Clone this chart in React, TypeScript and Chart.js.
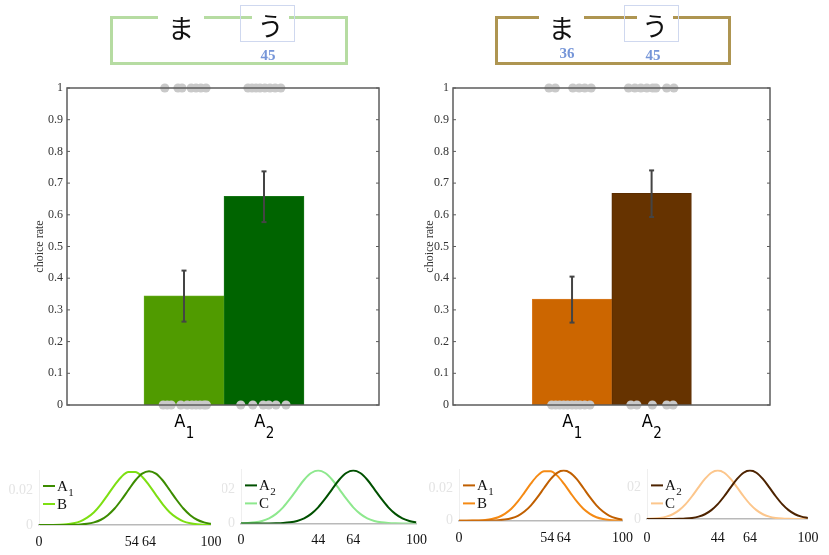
import React, { useEffect, useRef } from 'react';
import { Chart, registerables } from 'chart.js';

Chart.register(...registerables);

// ---------------- data ----------------
const categories = ['A1', 'A2'];
const categoryPos = [1, 2];
const rateTicks = [0, 0.1, 0.2, 0.3, 0.4, 0.5, 0.6, 0.7, 0.8, 0.9, 1];

const greenRates = [0.344, 0.658];
const greenErrLow = [0.263, 0.577];
const greenErrHigh = [0.424, 0.737];
const greenChoiceOneX = [0.76, 0.925, 0.975, 1.09, 1.15, 1.21, 1.275, 1.8, 1.85, 1.9, 1.95, 2.01, 2.075, 2.14, 2.21];
const greenChoiceZeroX = [0.74, 0.79, 0.84, 0.96, 1.04, 1.1, 1.15, 1.2, 1.25, 1.28, 1.71, 1.86, 1.99, 2.06, 2.15, 2.275];

const brownRates = [0.334, 0.668];
const brownErrLow = [0.26, 0.593];
const brownErrHigh = [0.405, 0.74];
const brownChoiceOneX = [0.71, 0.79, 1.01, 1.09, 1.16, 1.24, 1.71, 1.79, 1.865, 1.94, 2.015, 2.055, 2.19, 2.28];
const brownChoiceZeroX = [0.745, 0.795, 0.845, 0.895, 0.945, 1.0, 1.05, 1.1, 1.16, 1.225, 1.74, 1.815, 2.01, 2.19, 2.27];

const densityX = [0, 4, 8, 12, 16, 20, 24, 28, 32, 36, 40, 44, 48, 52, 56, 60, 64, 68, 72, 76, 80, 84, 88, 92, 96, 100];
const densityPeak64 = [0, 0, 0, 0.00001, 0.00003, 0.0001, 0.00027, 0.00067, 0.0015, 0.003, 0.0056, 0.0094, 0.0144, 0.02, 0.0254, 0.0293, 0.0307, 0.0293, 0.0254, 0.02, 0.0144, 0.0094, 0.0056, 0.003, 0.0015, 0.00067];
const densityPeak54 = [0, 0.00002, 0.00006, 0.00017, 0.00043, 0.001, 0.0021, 0.0042, 0.0073, 0.0118, 0.0172, 0.0228, 0.0276, 0.0303, 0.0303, 0.0276, 0.0228, 0.0172, 0.0118, 0.0073, 0.0042, 0.0021, 0.001, 0.00043, 0.00017, 0.00006];
const densityPeak44 = [0.0001, 0.00027, 0.00067, 0.0015, 0.003, 0.0056, 0.0094, 0.0144, 0.02, 0.0254, 0.0293, 0.0307, 0.0293, 0.0254, 0.02, 0.0144, 0.0094, 0.0056, 0.003, 0.0015, 0.00067, 0.00027, 0.0001, 0.00003, 0.00001, 0];
const ticksAB = [0, 54, 64, 100];
const ticksAC = [0, 44, 64, 100];
const densityTicks = [0, 0.02];

const boxChars = ['ま', 'う'];
const greenBoxCounts = ['', '45'];
const brownBoxCounts = ['36', '45'];

// ---------------- helpers ----------------
const SERIF = '"Liberation Serif", "Times New Roman", "DejaVu Serif", serif';
const NARROW = '"Liberation Sans Narrow", "DejaVu Sans Condensed", "Liberation Sans", sans-serif';

function drawSubLabel(ctx: any, label: string, x: number, y: number, font: string, subFont: string, dy: number, align: 'left' | 'center') {
  const m = /^(\D+)(\d*)$/.exec(label);
  const base = m ? m[1] : label;
  const sub = m ? m[2] : '';
  ctx.font = font;
  const wb = ctx.measureText(base).width;
  ctx.font = subFont;
  const ws = sub ? ctx.measureText(sub).width : 0;
  const x0 = align === 'center' ? x - (wb + ws) / 2 : x;
  ctx.textAlign = 'left';
  ctx.textBaseline = 'alphabetic';
  ctx.font = font;
  ctx.fillText(base, x0, y);
  if (sub) {
    ctx.font = subFont;
    ctx.fillText(sub, x0 + wb + 0.5, y + dy);
  }
}

const framePlugin = {
  id: 'frame',
  afterDatasetsDraw(chart: any, _args: any, opts: any) {
    const { ctx, chartArea: a } = chart;
    const ys = chart.scales.y;
    const xs = chart.scales.x;
    ctx.save();
    ctx.strokeStyle = '#5c5c5c';
    ctx.lineWidth = 1.5;
    ctx.strokeRect(a.left, a.top, a.right - a.left, a.bottom - a.top);
    ctx.lineWidth = 1;
    ctx.beginPath();
    ys.ticks.forEach((t: any) => {
      const py = ys.getPixelForValue(t.value);
      ctx.moveTo(a.left, py);
      ctx.lineTo(a.left + 3, py);
      ctx.moveTo(a.right, py);
      ctx.lineTo(a.right - 3, py);
    });
    ctx.stroke();
    ctx.fillStyle = '#000';
    (opts.labels || []).forEach((lab: string, i: number) => {
      const px = xs.getPixelForValue(opts.positions[i]);
      drawSubLabel(ctx, lab, px, a.bottom + 22, '18px ' + NARROW, '15px ' + NARROW, 11, 'center');
    });
    ctx.restore();
  },
};

const innerLegend = {
  id: 'innerLegend',
  afterDraw(chart: any) {
    const { ctx, chartArea: a } = chart;
    ctx.save();
    chart.data.datasets.forEach((ds: any, i: number) => {
      const yb = a.top + 21 + i * 18;
      ctx.strokeStyle = ds.borderColor;
      ctx.lineWidth = 2;
      ctx.beginPath();
      ctx.moveTo(a.left + 4, yb - 5);
      ctx.lineTo(a.left + 16, yb - 5);
      ctx.stroke();
      ctx.fillStyle = '#111';
      drawSubLabel(ctx, ds.label, a.left + 18, yb, '15px ' + SERIF, '11px ' + SERIF, 5, 'left');
    });
    ctx.restore();
  },
};

// ---------------- bar panel ----------------
type BarSpec = {
  left: number; top: number; width: number; height: number;
  padLeft: number; yWidth: number; padRight: number; padTop: number; xHeight: number;
  xMin: number; xMax: number;
  rates: number[]; low: number[]; high: number[]; oneX: number[]; zeroX: number[];
  colors: string[]; borders: string[];
};

function BarPanel({ spec }: { spec: BarSpec }) {
  const ref = useRef<HTMLCanvasElement | null>(null);
  useEffect(() => {
    if (!ref.current) return;
    const dots = spec.oneX.map((x) => ({ x, y: 1 })).concat(spec.zeroX.map((x) => ({ x, y: 0 })));
    const errSets = categories.map((c, i) => ({
      type: 'line',
      label: 'err ' + c,
      data: [
        { x: categoryPos[i], y: spec.low[i] },
        { x: categoryPos[i], y: spec.high[i] },
      ],
      borderColor: '#444',
      borderWidth: 2,
      pointStyle: 'line',
      pointRadius: 2.5,
      pointBorderWidth: 2,
      pointBorderColor: '#444',
      order: 2,
    }));
    const chart = new Chart(ref.current, {
      type: 'bar',
      data: {
        datasets: [
          {
            type: 'scatter',
            label: 'responses',
            data: dots,
            pointRadius: 4.6,
            backgroundColor: '#c9c9c9',
            borderWidth: 0,
            clip: false,
            order: 1,
          },
          ...errSets,
          {
            type: 'bar',
            label: 'choice rate',
            data: categoryPos.map((x, i) => ({ x, y: spec.rates[i] })),
            backgroundColor: spec.colors,
            borderColor: spec.borders,
            borderWidth: 1,
            barPercentage: 1,
            categoryPercentage: 1,
            order: 3,
          },
        ] as any,
      },
      options: {
        responsive: false,
        animation: false,
        events: [],
        layout: { padding: { left: spec.padLeft, right: spec.padRight, top: spec.padTop, bottom: 0 } },
        plugins: {
          legend: { display: false },
          tooltip: { enabled: false },
          frame: { labels: categories, positions: categoryPos },
        } as any,
        scales: {
          x: {
            type: 'linear',
            min: spec.xMin,
            max: spec.xMax,
            offset: false,
            grid: { display: false, offset: false, drawTicks: false },
            border: { display: false },
            ticks: { display: false },
            afterBuildTicks: (s: any) => { s.ticks = categoryPos.map((v) => ({ value: v })); },
            afterFit: (s: any) => { s.height = spec.xHeight; },
          },
          y: {
            type: 'linear',
            min: 0,
            max: 1,
            grid: { display: false, drawTicks: false },
            border: { display: false },
            ticks: {
              padding: 4,
              color: '#333',
              font: { family: SERIF, size: 12 },
              callback: (v: any) => String(Math.round(Number(v) * 10) / 10),
            },
            title: {
              display: true,
              text: 'choice rate',
              color: '#333',
              font: { family: SERIF, size: 12 },
              padding: { top: 4, bottom: 4 },
            },
            afterBuildTicks: (s: any) => { s.ticks = rateTicks.map((v) => ({ value: v })); },
            afterFit: (s: any) => { s.width = spec.yWidth; },
          },
        } as any,
      },
      plugins: [framePlugin],
    } as any);
    return () => chart.destroy();
  }, []);
  return (
    <canvas
      ref={ref}
      width={spec.width}
      height={spec.height}
      style={{ position: 'absolute', left: spec.left, top: spec.top, width: spec.width, height: spec.height, display: 'block' }}
    />
  );
}

// ---------------- density panels ----------------
type Series = { label: string; values: number[]; color: string };
type SmallSpec = {
  left: number; top: number; width: number; height: number;
  yWidth: number; padRight: number; padTop: number; xHeight: number; xPad: number;
  xTicks: number[]; series: Series[];
};

function SmallPanel({ spec }: { spec: SmallSpec }) {
  const ref = useRef<HTMLCanvasElement | null>(null);
  useEffect(() => {
    if (!ref.current) return;
    const chart = new Chart(ref.current, {
      type: 'line',
      data: {
        datasets: spec.series.map((s) => ({
          label: s.label,
          data: densityX.map((x, i) => ({ x, y: s.values[i] })),
          borderColor: s.color,
          borderWidth: 2,
          pointRadius: 0,
          cubicInterpolationMode: 'monotone',
          fill: false,
        })),
      },
      options: {
        responsive: false,
        animation: false,
        events: [],
        layout: { padding: { left: 0, right: spec.padRight, top: spec.padTop, bottom: 0 } },
        plugins: { legend: { display: false }, tooltip: { enabled: false } },
        scales: {
          x: {
            type: 'linear',
            min: 0,
            max: 100,
            grid: { display: false, drawTicks: false },
            border: { display: true, color: '#b9b9b9', width: 1.5 },
            ticks: {
              autoSkip: false,
              maxRotation: 0,
              padding: spec.xPad,
              color: '#111',
              font: { family: SERIF, size: 14 },
              callback: (v: any) => String(v),
            },
            afterBuildTicks: (s: any) => { s.ticks = spec.xTicks.map((v) => ({ value: v })); },
            afterFit: (s: any) => { s.height = spec.xHeight; },
          },
          y: {
            type: 'linear',
            min: 0,
            max: 0.0314,
            grid: { display: false, drawTicks: false },
            border: { display: true, color: '#efefef', width: 1 },
            ticks: {
              padding: 6,
              color: '#e4e4e4',
              font: { family: SERIF, size: 14 },
              callback: (v: any) => String(v),
            },
            afterBuildTicks: (s: any) => { s.ticks = densityTicks.map((v) => ({ value: v })); },
            afterFit: (s: any) => { s.width = spec.yWidth; },
          },
        } as any,
      },
      plugins: [innerLegend],
    } as any);
    return () => chart.destroy();
  }, []);
  return (
    <canvas
      ref={ref}
      width={spec.width}
      height={spec.height}
      style={{ position: 'absolute', left: spec.left, top: spec.top, width: spec.width, height: spec.height, display: 'block' }}
    />
  );
}

// ---------------- top boxes ----------------
type BoxSpec = {
  left: number; top: number; width: number; height: number; color: string;
  gaps: { left: number; width: number; top: number }[];
  square: { left: number; top: number; width: number; height: number };
  counts: string[];
  countPos: { cx: number; cy: number }[];
};

function TopBox({ spec }: { spec: BoxSpec }) {
  return (
    <>
      <div
        style={{
          position: 'absolute', left: spec.left, top: spec.top, width: spec.width, height: spec.height,
          boxSizing: 'border-box', border: '3px solid ' + spec.color,
        }}
      />
      <div
        style={{
          position: 'absolute', left: spec.square.left, top: spec.square.top, width: spec.square.width,
          height: spec.square.height, boxSizing: 'border-box', border: '1px solid #cfd8ef',
        }}
      />
      {boxChars.map((ch, i) => (
        <div
          key={ch}
          style={{
            position: 'absolute', left: spec.gaps[i].left, top: spec.gaps[i].top, width: spec.gaps[i].width,
            height: 32, lineHeight: '32px', textAlign: 'center', background: '#fff',
            fontFamily: '"Noto Sans CJK JP", sans-serif', fontSize: 26, color: '#111',
          }}
        >
          {ch}
        </div>
      ))}
      {spec.counts.map((t, i) =>
        t ? (
          <div
            key={'c' + i}
            style={{
              position: 'absolute', left: spec.countPos[i].cx - 20, top: spec.countPos[i].cy - 9, width: 40,
              height: 18, lineHeight: '18px', textAlign: 'center', fontFamily: SERIF, fontWeight: 'bold',
              fontSize: 15, color: '#7595d8',
            }}
          >
            {t}
          </div>
        ) : null
      )}
    </>
  );
}

// ---------------- specs ----------------
const leftBar: BarSpec = {
  left: 0, top: 60, width: 410, height: 390,
  padLeft: 29, yWidth: 38, padRight: 31, padTop: 28, xHeight: 45,
  xMin: -0.4625, xMax: 3.4375,
  rates: greenRates, low: greenErrLow, high: greenErrHigh, oneX: greenChoiceOneX, zeroX: greenChoiceZeroX,
  colors: ['#509b00', '#006400'], borders: ['#5fa815', '#157515'],
};
const rightBar: BarSpec = {
  left: 410, top: 60, width: 419, height: 390,
  padLeft: 9, yWidth: 34, padRight: 59, padTop: 28, xHeight: 45,
  xMin: -0.496, xMax: 3.488,
  rates: brownRates, low: brownErrLow, high: brownErrHigh, oneX: brownChoiceOneX, zeroX: brownChoiceZeroX,
  colors: ['#cc6600', '#663300'], borders: ['#d97a1f', '#5a2c00'],
};

const smallSpecs: SmallSpec[] = [
  {
    left: 0, top: 455, width: 230, height: 100, yWidth: 39, padRight: 13, padTop: 15, xHeight: 30, xPad: 8.6,
    xTicks: ticksAB,
    series: [
      { label: 'A1', values: densityPeak64, color: '#3c8c00' },
      { label: 'B', values: densityPeak54, color: '#7ddf12' },
    ],
  },
  {
    left: 222, top: 455, width: 213, height: 100, yWidth: 19, padRight: 16, padTop: 12.8, xHeight: 31.5, xPad: 8.1,
    xTicks: ticksAC,
    series: [
      { label: 'A2', values: densityPeak64, color: '#005000' },
      { label: 'C', values: densityPeak44, color: '#8ee88e' },
    ],
  },
  {
    left: 420, top: 455, width: 222, height: 100, yWidth: 39, padRight: 15, padTop: 12.8, xHeight: 34.3, xPad: 8.9,
    xTicks: ticksAB,
    series: [
      { label: 'A1', values: densityPeak64, color: '#c05f00' },
      { label: 'B', values: densityPeak54, color: '#f58a14' },
    ],
  },
  {
    left: 626, top: 455, width: 203, height: 100, yWidth: 21, padRight: 15, padTop: 13, xHeight: 36, xPad: 10.6,
    xTicks: ticksAC,
    series: [
      { label: 'A2', values: densityPeak64, color: '#4d2300' },
      { label: 'C', values: densityPeak44, color: '#fcc68c' },
    ],
  },
];

const greenBox: BoxSpec = {
  left: 110, top: 16, width: 238, height: 49, color: '#b6dca2',
  gaps: [{ left: 158, width: 46, top: 11 }, { left: 252, width: 37, top: 9 }],
  square: { left: 240, top: 5, width: 55, height: 37 },
  counts: greenBoxCounts,
  countPos: [{ cx: 180, cy: 54 }, { cx: 268, cy: 55 }],
};
const brownBox: BoxSpec = {
  left: 495, top: 16, width: 236, height: 49, color: '#ae9551',
  gaps: [{ left: 539, width: 45, top: 11 }, { left: 637, width: 36, top: 9 }],
  square: { left: 624, top: 5, width: 55, height: 37 },
  counts: brownBoxCounts,
  countPos: [{ cx: 567, cy: 53 }, { cx: 653, cy: 55 }],
};

export default function App() {
  return (
    <div
      style={{
        position: 'absolute', left: 0, top: 0, width: 829, height: 555, background: '#fff',
        overflow: 'hidden', fontFamily: SERIF,
      }}
    >
      <BarPanel spec={leftBar} />
      <BarPanel spec={rightBar} />
      {smallSpecs.map((s, i) => (
        <SmallPanel key={i} spec={s} />
      ))}
      <TopBox spec={greenBox} />
      <TopBox spec={brownBox} />
    </div>
  );
}
